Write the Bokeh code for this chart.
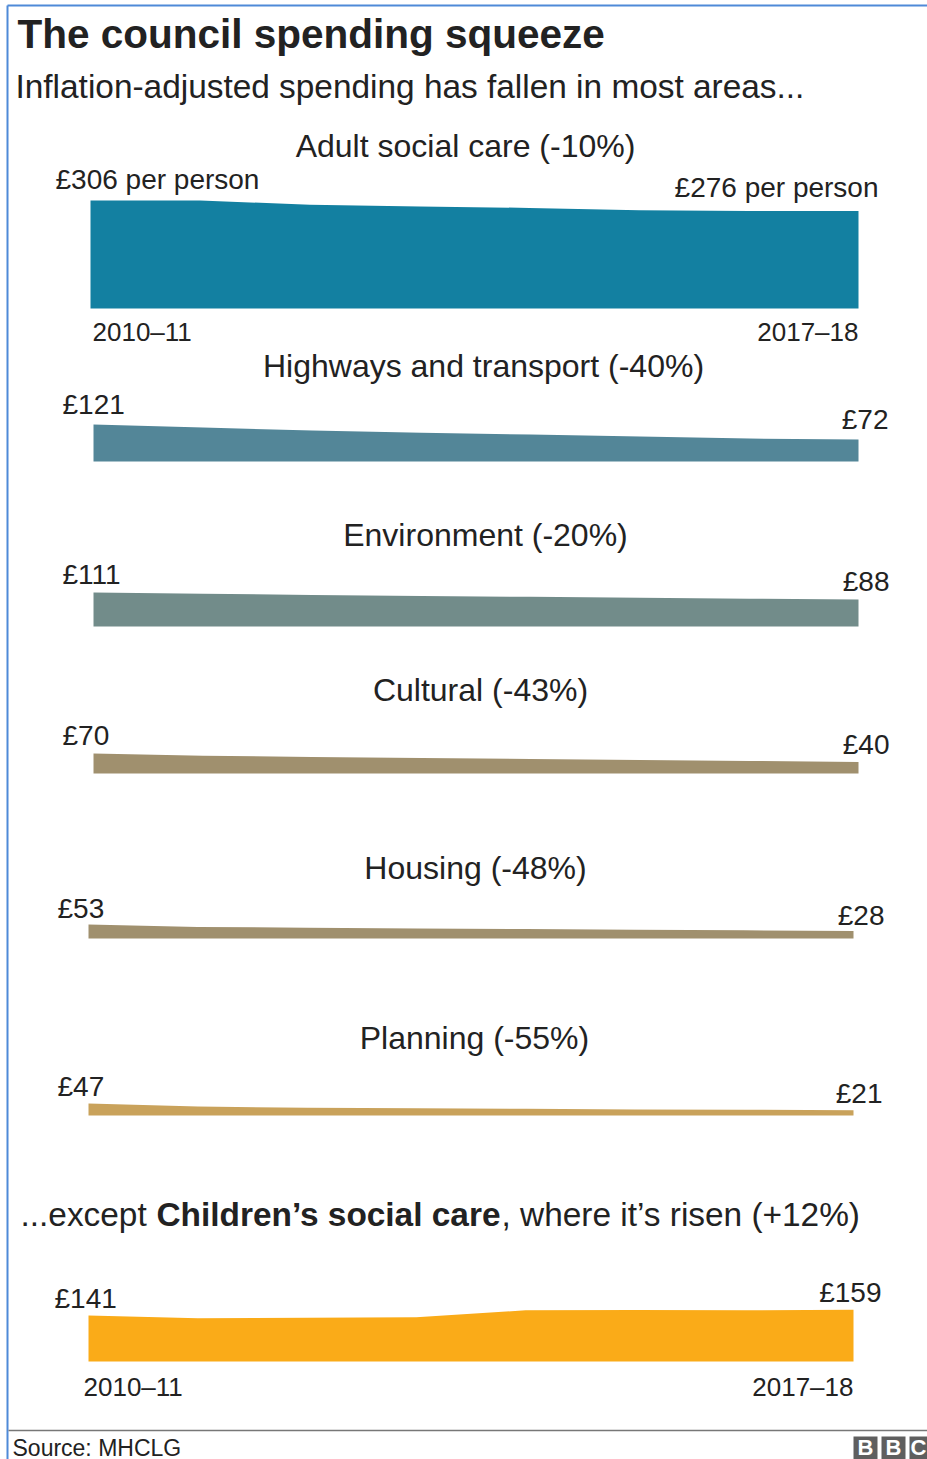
from bokeh.plotting import figure
from bokeh.models import Range1d, ColumnDataSource
from bokeh.core.properties import value
from bokeh.embed import file_html
from bokeh.resources import INLINE

# ---------------- data ----------------
years = ["2010\u201311", "2011\u201312", "2012\u201313", "2013\u201314",
         "2014\u201315", "2015\u201316", "2016\u201317", "2017\u201318"]
adult_social_care = [306, 306, 294, 289, 285, 278, 276, 276]
highways_transport = [121, 111, 101, 94, 88, 82, 75, 72]
environment = [111, 107, 103, 100, 97, 94, 91, 88]
cultural = [70, 62, 58, 54, 51, 47, 44, 40]
housing = [53, 44, 41, 38, 36, 33, 31, 28]
planning = [47, 35, 30, 28, 26, 24, 23, 21]
childrens_social_care = [141, 133, 134, 136, 157, 158, 157, 159]

panel_titles = ["Adult social care (-10%)", "Highways and transport (-40%)",
                "Environment (-20%)", "Cultural (-43%)", "Housing (-48%)",
                "Planning (-55%)"]

# ---------------- layout / style ----------------
W, H = 927, 1459
FONT = value("Liberation Sans")
TXT = "#222222"


def lift(fs):
    # correction so that the alphabetic baseline lands where intended
    return round(0.36 * fs)


p = figure(width=W, height=H, x_range=Range1d(0, W), y_range=Range1d(H, 0),
           output_backend="svg", toolbar_location=None, min_border=0,
           x_axis_location=None, y_axis_location=None, title=None)
p.grid.visible = False
p.outline_line_color = None
p.background_fill_color = "white"
p.border_fill_color = "white"

series = [adult_social_care, highways_transport, environment, cultural, housing,
          planning, childrens_social_care]
layout = [
    dict(base=308, left=90, right=858, ppp=0.353, color="#1380A1", tx=465, ty=157, loff=-35, roff=20, lab_up=11),
    dict(base=461, left=93, right=858, ppp=0.306, color="#538698", tx=483, ty=377, loff=-31, roff=30, lab_up=10),
    dict(base=626, left=93, right=858, ppp=0.306, color="#728C8A", tx=485, ty=546, loff=-31, roff=31, lab_up=8),
    dict(base=773, left=93, right=858, ppp=0.286, color="#A0906E", tx=480, ty=701, loff=-31, roff=31, lab_up=8),
    dict(base=938, left=88, right=853, ppp=0.264, color="#A0906E", tx=475, ty=879, loff=-31, roff=31, lab_up=6),
    dict(base=1115, left=88, right=853, ppp=0.255, color="#C9A25B", tx=474, ty=1049, loff=-31, roff=29, lab_up=7),
    dict(base=1361, left=88, right=853, ppp=0.326, color="#FAAB18", tx=None, ty=None, loff=-34, roff=28, lab_up=7),
]

xr, yr = {}, {}
for i, lay in enumerate(layout):
    n = len(years) - 1
    k = (lay["right"] - lay["left"]) / n
    xr[f"x{i}"] = Range1d(-lay["left"] / k, (W - lay["left"]) / k)
    s = lay["ppp"]
    yr[f"y{i}"] = Range1d(-(H - lay["base"]) / s, lay["base"] / s)
p.extra_x_ranges = xr
p.extra_y_ranges = yr

for i, (vals, lay) in enumerate(zip(series, layout)):
    xn, yn = f"x{i}", f"y{i}"
    src = ColumnDataSource(dict(x=list(range(len(years))), y=vals))
    p.varea(x="x", y1=0, y2="y", source=src, fill_color=lay["color"],
            x_range_name=xn, y_range_name=yn)
    suffix = " per person" if i == 0 else ""
    p.text(x=[0], y=[vals[0]], text=[f"\u00a3{vals[0]}{suffix}"],
           x_range_name=xn, y_range_name=yn, text_align="left",
           text_baseline="alphabetic", x_offset=lay["loff"],
           y_offset=-lay["lab_up"] - lift(28),
           text_font=FONT, text_font_size="28px", text_color=TXT)
    up_r = lay["lab_up"] + (3 if i == 0 else 0)
    p.text(x=[len(vals) - 1], y=[vals[-1]], text=[f"\u00a3{vals[-1]}{suffix}"],
           x_range_name=xn, y_range_name=yn, text_align="right",
           text_baseline="alphabetic", x_offset=lay["roff"], y_offset=-up_r - lift(28),
           text_font=FONT, text_font_size="28px", text_color=TXT)
    if i < len(panel_titles):
        p.text(x=[lay["tx"]], y=[lay["ty"] - lift(32)], text=[panel_titles[i]],
               text_align="center", text_baseline="alphabetic",
               text_font=FONT, text_font_size="32px", text_color=TXT)
    if i in (0, len(series) - 1):
        off = (32 if i == 0 else 34) - lift(26)
        p.text(x=[0], y=[0], text=[years[0]], x_range_name=xn, y_range_name=yn,
               text_align="left", text_baseline="alphabetic", y_offset=off,
               x_offset=2 if i == 0 else -5,
               text_font=FONT, text_font_size="26px", text_color=TXT)
        p.text(x=[len(years) - 1], y=[0], text=[years[-1]], x_range_name=xn, y_range_name=yn,
               text_align="right", text_baseline="alphabetic", y_offset=off,
               text_font=FONT, text_font_size="26px", text_color=TXT)

# ---------------- headings ----------------
p.text(x=[17], y=[47 - lift(40)], text=["The council spending squeeze"], text_align="left",
       text_baseline="alphabetic", text_font=FONT, text_font_size="40.5px",
       text_font_style="bold", text_color=TXT)
p.text(x=[15], y=[98 - lift(33)], text=["Inflation-adjusted spending has fallen in most areas..."],
       text_align="left", text_baseline="alphabetic", text_font=FONT,
       text_font_size="33.4px", text_color=TXT)

hy = 1226 - lift(33)
p.text(x=[20], y=[hy], text=["...except "], text_align="left",
       text_baseline="alphabetic", text_font=FONT, text_font_size="33.4px", text_color=TXT)
p.text(x=[156], y=[hy], text=["Children\u2019s social care"], text_align="left",
       text_baseline="alphabetic", text_font=FONT, text_font_size="33.4px",
       text_font_style="bold", text_color=TXT)
p.text(x=[501], y=[hy], text=[", where it\u2019s risen (+12%)"], text_align="left",
       text_baseline="alphabetic", text_font=FONT, text_font_size="33.4px", text_color=TXT)

# ---------------- frame, footer ----------------
p.segment(x0=[7, 7], y0=[5, 5], x1=[7, W], y1=[H, 5], line_color="#4F8AD8", line_width=2)
p.segment(x0=[8], y0=[1430], x1=[W], y1=[1430], line_color="#777777", line_width=1.5)
p.text(x=[12], y=[1455 - lift(23)], text=["Source: MHCLG"], text_align="left",
       text_baseline="alphabetic", text_font=FONT, text_font_size="23px", text_color=TXT)

p.quad(left=[853, 881, 909], right=[877, 905, 933], top=[1436] * 3, bottom=[1460] * 3,
       fill_color="#5F5F5F", line_color=None)
p.text(x=[865, 893, 918], y=[1455 - lift(22)] * 3, text=["B", "B", "C"], text_align="center",
       text_baseline="alphabetic", text_font=FONT, text_font_size="22px",
       text_font_style="bold", text_color="white")

open("out.html", "w").write(file_html(p, INLINE))
